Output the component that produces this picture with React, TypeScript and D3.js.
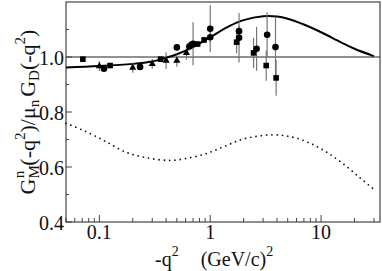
import { useEffect, useRef } from 'react';
import * as d3 from 'd3';

// solid curve (model 1)
const solidQ2 = [0.05, 0.1, 0.2, 0.3, 0.4, 0.5, 0.7, 1, 1.5, 2, 3, 4, 5, 7, 10, 15, 20, 30];
const solidVal = [0.962, 0.967, 0.975, 0.984, 0.997, 1.01, 1.036, 1.072, 1.113, 1.134, 1.148, 1.147, 1.139, 1.118, 1.09, 1.054, 1.03, 1.003];

// dotted curve (model 2)
const dotQ2 = [0.05, 0.07, 0.1, 0.125, 0.173, 0.25, 0.43, 0.7, 1, 1.4, 2, 3.67, 5.6, 7.9, 11.2, 15.8, 22.4, 30];
const dotVal = [0.759, 0.735, 0.705, 0.684, 0.654, 0.636, 0.624, 0.636, 0.654, 0.678, 0.702, 0.717, 0.708, 0.687, 0.654, 0.612, 0.561, 0.518];

// data sets: q2, ratio, error
const sqQ2 = [0.071, 0.125, 0.357, 0.68, 0.77, 0.88, 1.73, 2.46, 3.2, 3.93];
const sqVal = [0.992, 0.969, 0.992, 1.045, 1.047, 1.062, 1.054, 1.015, 0.969, 0.924];
const sqErr = [0.005, 0.008, 0.01, 0.01, 0.01, 0.012, 0.04, 0.055, 0.055, 0.065];

const ciQ2 = [0.11, 0.233, 0.5, 0.65, 0.7, 1.0, 1.0, 1.82, 1.82, 2.62, 3.26, 3.88];
const ciVal = [0.957, 0.964, 1.035, 1.039, 1.048, 1.103, 1.072, 1.094, 1.07, 1.03, 1.081, 1.036];
const ciErr = [0.01, 0.008, 0.01, 0.015, 0.078, 0.085, 0.02, 0.02, 0.09, 0.08, 0.082, 0.11];

const trQ2 = [0.1, 0.2, 0.3, 0.4, 0.5, 0.61];
const trVal = [0.967, 0.961, 0.975, 0.987, 0.987, 1.015];
const trErr = [0.018, 0.018, 0.018, 0.03, 0.022, 0.025];

const xMajor = [0.1, 1, 10];
const xMinor = [0.05, 0.06, 0.07, 0.08, 0.09, 0.2, 0.3, 0.4, 0.5, 0.6, 0.7, 0.8, 0.9, 2, 3, 4, 5, 6, 7, 8, 9, 20, 30];
const yMajor = [0.4, 0.6, 0.8, 1.0];
const yMinor = [0.5, 0.7, 0.9, 1.1];

const W = 382;
const H = 271;
const FONT = '"Liberation Serif", "Times New Roman", serif';

export default function App() {
  const svgRef = useRef<SVGSVGElement | null>(null);

  useEffect(() => {
    const svg = d3.select(svgRef.current);
    svg.selectAll('*').remove();

    const left = 66, right = 380, top = 2, bottom = 222;
    const x = d3.scaleLog().domain([0.05, 34]).range([left, right]);
    const y = d3.scaleLinear().domain([0.4, 1.2]).range([bottom, top]);

    const g = svg.append('g');

    // reference line at 1
    g.append('line')
      .attr('x1', left).attr('x2', right)
      .attr('y1', y(1)).attr('y2', y(1))
      .attr('stroke', '#222').attr('stroke-width', 1);

    // ticks
    xMajor.forEach(t => {
      g.append('line').attr('x1', x(t)).attr('x2', x(t)).attr('y1', bottom).attr('y2', bottom - 7)
        .attr('stroke', '#444').attr('stroke-width', 1);
    });
    xMinor.forEach(t => {
      g.append('line').attr('x1', x(t)).attr('x2', x(t)).attr('y1', bottom).attr('y2', bottom - 4)
        .attr('stroke', '#444').attr('stroke-width', 1);
    });
    yMajor.forEach(t => {
      g.append('line').attr('x1', left).attr('x2', left + 6).attr('y1', y(t)).attr('y2', y(t))
        .attr('stroke', '#444').attr('stroke-width', 1);
    });
    yMinor.forEach(t => {
      g.append('line').attr('x1', left).attr('x2', left + 3).attr('y1', y(t)).attr('y2', y(t))
        .attr('stroke', '#444').attr('stroke-width', 1);
    });

    // frame
    g.append('rect')
      .attr('x', left).attr('y', top)
      .attr('width', right - left).attr('height', bottom - top)
      .attr('fill', 'none').attr('stroke', '#444').attr('stroke-width', 1.2);

    // tick labels
    xMajor.forEach(t => {
      g.append('text').attr('x', x(t)).attr('y', 239)
        .attr('text-anchor', 'middle')
        .attr('font-family', FONT).attr('font-size', 20).attr('fill', '#111')
        .text(d3.format('~g')(t));
    });
    yMajor.forEach(t => {
      g.append('text').attr('x', 64).attr('y', y(t) + 8)
        .attr('text-anchor', 'end')
        .attr('font-family', FONT).attr('font-size', 20).attr('fill', '#111')
        .text(t.toFixed(1));
    });

    const line = d3.line<[number, number]>()
      .x(d => x(d[0])).y(d => y(d[1]))
      .curve(d3.curveCatmullRom.alpha(0.5));

    // dotted curve
    g.append('path')
      .attr('d', line(dotQ2.map((q, i) => [q, dotVal[i]] as [number, number])))
      .attr('fill', 'none').attr('stroke', '#111')
      .attr('stroke-width', 1.8).attr('stroke-linecap', 'round')
      .attr('stroke-dasharray', '0 5.3');

    // solid curve
    g.append('path')
      .attr('d', line(solidQ2.map((q, i) => [q, solidVal[i]] as [number, number])))
      .attr('fill', 'none').attr('stroke', '#000').attr('stroke-width', 2);

    // error bars
    const errBars = (qs: number[], vs: number[], es: number[]) => {
      qs.forEach((q, i) => {
        g.append('line')
          .attr('x1', x(q)).attr('x2', x(q))
          .attr('y1', y(vs[i] - es[i])).attr('y2', y(vs[i] + es[i]))
          .attr('stroke', '#777').attr('stroke-width', 1.2);
      });
    };
    errBars(sqQ2, sqVal, sqErr);
    errBars(ciQ2, ciVal, ciErr);
    errBars(trQ2, trVal, trErr);

    // markers
    sqQ2.forEach((q, i) => {
      g.append('rect')
        .attr('x', x(q) - 2.8).attr('y', y(sqVal[i]) - 2.8)
        .attr('width', 5.6).attr('height', 5.6).attr('fill', '#000');
    });
    ciQ2.forEach((q, i) => {
      g.append('circle')
        .attr('cx', x(q)).attr('cy', y(ciVal[i])).attr('r', 3.3).attr('fill', '#000');
    });
    const tri = d3.symbol().type(d3.symbolTriangle).size(22);
    trQ2.forEach((q, i) => {
      g.append('path')
        .attr('d', tri())
        .attr('transform', `translate(${x(q)},${y(trVal[i])})`)
        .attr('fill', '#000');
    });

    // y-axis title
    const yt = svg.append('text')
      .attr('transform', `translate(35,${(top + bottom) / 2}) rotate(-90)`)
      .attr('text-anchor', 'middle')
      .attr('font-family', FONT).attr('font-size', 22).attr('fill', '#111');
    const parts: [string, number, number, number][] = [
      // text, size, dx, dy
      ['G', 22, 0, 0],
      ['M', 15, 0, 4],
      ['n', 15, -13, -15],
      ['(-q', 22, 5, 11],
      ['2', 15, 0, -10],
      [')/\u03bc', 22, 0, 10],
      ['n', 15, 0, 4],
      ['G', 22, 3, -4],
      ['D', 15, 0, 4],
      ['(-q', 22, 0, -4],
      ['2', 15, 0, -10],
      [')', 22, 0, 10],
    ];
    parts.forEach(([t, s, dx, dy]) => {
      yt.append('tspan').attr('font-size', s).attr('dx', dx).attr('dy', dy).text(t);
    });

    // x-axis title
    const xt = svg.append('text')
      .attr('x', 155).attr('y', 266)
      .attr('font-family', FONT).attr('font-size', 20).attr('fill', '#111');
    const xparts: [string, number, number, number][] = [
      ['-q', 20, 0, 0],
      ['2', 14, 0, -10],
      ['(GeV/c)', 20, 22, 10],
      ['2', 14, 0, -10],
    ];
    xparts.forEach(([t, s, dx, dy]) => {
      xt.append('tspan').attr('font-size', s).attr('dx', dx).attr('dy', dy).text(t);
    });
  }, []);

  return (
    <svg
      ref={svgRef}
      width={W}
      height={H}
      style={{ position: 'absolute', left: 0, top: 0, background: '#fff' }}
    />
  );
}
